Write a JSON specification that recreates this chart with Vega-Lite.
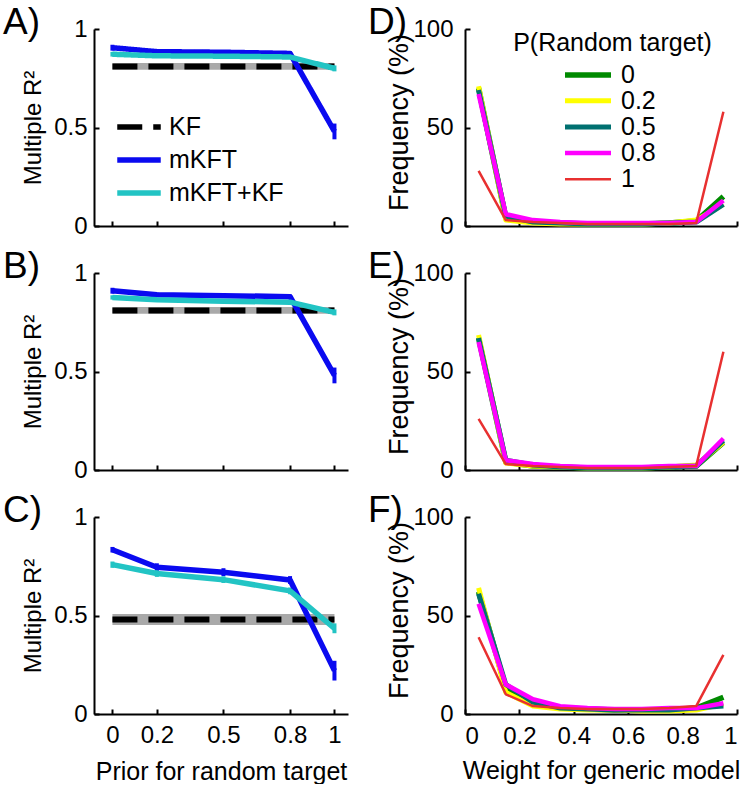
{
  "$schema": "https://vega.github.io/schema/vega-lite/v6.json",
  "padding": {"left": 3, "top": 4, "right": 2, "bottom": 0},
  "config": {
    "font": "Liberation Sans",
    "view": {"stroke": null},
    "axis": {"domainColor": "black", "domainWidth": 2, "tickColor": "black", "tickWidth": 2, "tickSize": -5, "labelFontSize": 24, "labelColor": "black", "titleFontSize": 25, "titleFontWeight": "normal", "titleColor": "black", "grid": false},
    "title": {"fontSize": 37, "fontWeight": "normal", "anchor": "start", "frame": "group", "color": "black"},
    "line": {"strokeJoin": "round"}
  },
  "datasets": {
    "R2": [
      {"panel": "A", "model": "KF", "x": 0, "y": 0.81, "lo": 0.793, "hi": 0.827},
      {"panel": "A", "model": "KF", "x": 1, "y": 0.81, "lo": 0.793, "hi": 0.827},
      {"panel": "A", "model": "mKFT", "x": 0, "y": 0.905, "lo": 0.89, "hi": 0.92},
      {"panel": "A", "model": "mKFT", "x": 0.2, "y": 0.885, "lo": 0.875, "hi": 0.895},
      {"panel": "A", "model": "mKFT", "x": 0.5, "y": 0.882, "lo": 0.872, "hi": 0.892},
      {"panel": "A", "model": "mKFT", "x": 0.8, "y": 0.876, "lo": 0.866, "hi": 0.886},
      {"panel": "A", "model": "mKFT", "x": 1, "y": 0.48, "lo": 0.44, "hi": 0.52},
      {"panel": "A", "model": "mKFT+KF", "x": 0, "y": 0.872, "lo": 0.86, "hi": 0.884},
      {"panel": "A", "model": "mKFT+KF", "x": 0.2, "y": 0.864, "lo": 0.855, "hi": 0.873},
      {"panel": "A", "model": "mKFT+KF", "x": 0.5, "y": 0.862, "lo": 0.853, "hi": 0.871},
      {"panel": "A", "model": "mKFT+KF", "x": 0.8, "y": 0.858, "lo": 0.849, "hi": 0.867},
      {"panel": "A", "model": "mKFT+KF", "x": 1, "y": 0.8, "lo": 0.785, "hi": 0.815},
      {"panel": "B", "model": "KF", "x": 0, "y": 0.81, "lo": 0.793, "hi": 0.827},
      {"panel": "B", "model": "KF", "x": 1, "y": 0.81, "lo": 0.793, "hi": 0.827},
      {"panel": "B", "model": "mKFT", "x": 0, "y": 0.91, "lo": 0.895, "hi": 0.925},
      {"panel": "B", "model": "mKFT", "x": 0.2, "y": 0.89, "lo": 0.88, "hi": 0.9},
      {"panel": "B", "model": "mKFT", "x": 0.5, "y": 0.885, "lo": 0.875, "hi": 0.895},
      {"panel": "B", "model": "mKFT", "x": 0.8, "y": 0.88, "lo": 0.87, "hi": 0.89},
      {"panel": "B", "model": "mKFT", "x": 1, "y": 0.48, "lo": 0.44, "hi": 0.52},
      {"panel": "B", "model": "mKFT+KF", "x": 0, "y": 0.876, "lo": 0.865, "hi": 0.887},
      {"panel": "B", "model": "mKFT+KF", "x": 0.2, "y": 0.864, "lo": 0.855, "hi": 0.873},
      {"panel": "B", "model": "mKFT+KF", "x": 0.5, "y": 0.857, "lo": 0.848, "hi": 0.866},
      {"panel": "B", "model": "mKFT+KF", "x": 0.8, "y": 0.852, "lo": 0.843, "hi": 0.861},
      {"panel": "B", "model": "mKFT+KF", "x": 1, "y": 0.8, "lo": 0.785, "hi": 0.815},
      {"panel": "C", "model": "KF", "x": 0, "y": 0.48, "lo": 0.452, "hi": 0.508},
      {"panel": "C", "model": "KF", "x": 1, "y": 0.48, "lo": 0.452, "hi": 0.508},
      {"panel": "C", "model": "mKFT", "x": 0, "y": 0.834, "lo": 0.82, "hi": 0.848},
      {"panel": "C", "model": "mKFT", "x": 0.2, "y": 0.745, "lo": 0.725, "hi": 0.765},
      {"panel": "C", "model": "mKFT", "x": 0.5, "y": 0.72, "lo": 0.7, "hi": 0.74},
      {"panel": "C", "model": "mKFT", "x": 0.8, "y": 0.68, "lo": 0.66, "hi": 0.7},
      {"panel": "C", "model": "mKFT", "x": 1, "y": 0.22, "lo": 0.17, "hi": 0.27},
      {"panel": "C", "model": "mKFT+KF", "x": 0, "y": 0.758, "lo": 0.742, "hi": 0.774},
      {"panel": "C", "model": "mKFT+KF", "x": 0.2, "y": 0.713, "lo": 0.696, "hi": 0.73},
      {"panel": "C", "model": "mKFT+KF", "x": 0.5, "y": 0.682, "lo": 0.665, "hi": 0.699},
      {"panel": "C", "model": "mKFT+KF", "x": 0.8, "y": 0.625, "lo": 0.608, "hi": 0.642},
      {"panel": "C", "model": "mKFT+KF", "x": 1, "y": 0.434, "lo": 0.41, "hi": 0.46}
    ],
    "freq": [
      {"panel": "D", "p": "0", "w": 0.05, "f": 70}, {"panel": "D", "p": "0", "w": 0.15, "f": 4}, {"panel": "D", "p": "0", "w": 0.25, "f": 2}, {"panel": "D", "p": "0", "w": 0.35, "f": 1.5}, {"panel": "D", "p": "0", "w": 0.45, "f": 1}, {"panel": "D", "p": "0", "w": 0.55, "f": 1}, {"panel": "D", "p": "0", "w": 0.65, "f": 1}, {"panel": "D", "p": "0", "w": 0.75, "f": 1.5}, {"panel": "D", "p": "0", "w": 0.85, "f": 2.5}, {"panel": "D", "p": "0", "w": 0.95, "f": 15},
      {"panel": "D", "p": "0.2", "w": 0.05, "f": 71}, {"panel": "D", "p": "0.2", "w": 0.15, "f": 3}, {"panel": "D", "p": "0.2", "w": 0.25, "f": 1.5}, {"panel": "D", "p": "0.2", "w": 0.35, "f": 1}, {"panel": "D", "p": "0.2", "w": 0.45, "f": 1}, {"panel": "D", "p": "0.2", "w": 0.55, "f": 1}, {"panel": "D", "p": "0.2", "w": 0.65, "f": 1}, {"panel": "D", "p": "0.2", "w": 0.75, "f": 1.5}, {"panel": "D", "p": "0.2", "w": 0.85, "f": 3}, {"panel": "D", "p": "0.2", "w": 0.95, "f": 11},
      {"panel": "D", "p": "0.5", "w": 0.05, "f": 69}, {"panel": "D", "p": "0.5", "w": 0.15, "f": 5}, {"panel": "D", "p": "0.5", "w": 0.25, "f": 2}, {"panel": "D", "p": "0.5", "w": 0.35, "f": 1.5}, {"panel": "D", "p": "0.5", "w": 0.45, "f": 1}, {"panel": "D", "p": "0.5", "w": 0.55, "f": 1}, {"panel": "D", "p": "0.5", "w": 0.65, "f": 1}, {"panel": "D", "p": "0.5", "w": 0.75, "f": 1.5}, {"panel": "D", "p": "0.5", "w": 0.85, "f": 2}, {"panel": "D", "p": "0.5", "w": 0.95, "f": 11},
      {"panel": "D", "p": "0.8", "w": 0.05, "f": 67}, {"panel": "D", "p": "0.8", "w": 0.15, "f": 6}, {"panel": "D", "p": "0.8", "w": 0.25, "f": 3}, {"panel": "D", "p": "0.8", "w": 0.35, "f": 2}, {"panel": "D", "p": "0.8", "w": 0.45, "f": 1.5}, {"panel": "D", "p": "0.8", "w": 0.55, "f": 1.5}, {"panel": "D", "p": "0.8", "w": 0.65, "f": 1.5}, {"panel": "D", "p": "0.8", "w": 0.75, "f": 1.5}, {"panel": "D", "p": "0.8", "w": 0.85, "f": 2}, {"panel": "D", "p": "0.8", "w": 0.95, "f": 13},
      {"panel": "D", "p": "1", "w": 0.05, "f": 28}, {"panel": "D", "p": "1", "w": 0.15, "f": 3}, {"panel": "D", "p": "1", "w": 0.25, "f": 2}, {"panel": "D", "p": "1", "w": 0.35, "f": 1.5}, {"panel": "D", "p": "1", "w": 0.45, "f": 1}, {"panel": "D", "p": "1", "w": 0.55, "f": 1}, {"panel": "D", "p": "1", "w": 0.65, "f": 1}, {"panel": "D", "p": "1", "w": 0.75, "f": 1}, {"panel": "D", "p": "1", "w": 0.85, "f": 1.5}, {"panel": "D", "p": "1", "w": 0.95, "f": 58},
      {"panel": "E", "p": "0", "w": 0.05, "f": 67}, {"panel": "E", "p": "0", "w": 0.15, "f": 4}, {"panel": "E", "p": "0", "w": 0.25, "f": 2}, {"panel": "E", "p": "0", "w": 0.35, "f": 1.5}, {"panel": "E", "p": "0", "w": 0.45, "f": 1}, {"panel": "E", "p": "0", "w": 0.55, "f": 1}, {"panel": "E", "p": "0", "w": 0.65, "f": 1}, {"panel": "E", "p": "0", "w": 0.75, "f": 1.5}, {"panel": "E", "p": "0", "w": 0.85, "f": 2}, {"panel": "E", "p": "0", "w": 0.95, "f": 14},
      {"panel": "E", "p": "0.2", "w": 0.05, "f": 68.5}, {"panel": "E", "p": "0.2", "w": 0.15, "f": 3.5}, {"panel": "E", "p": "0.2", "w": 0.25, "f": 2}, {"panel": "E", "p": "0.2", "w": 0.35, "f": 1.5}, {"panel": "E", "p": "0.2", "w": 0.45, "f": 1}, {"panel": "E", "p": "0.2", "w": 0.55, "f": 1}, {"panel": "E", "p": "0.2", "w": 0.65, "f": 1}, {"panel": "E", "p": "0.2", "w": 0.75, "f": 1.5}, {"panel": "E", "p": "0.2", "w": 0.85, "f": 2.5}, {"panel": "E", "p": "0.2", "w": 0.95, "f": 14},
      {"panel": "E", "p": "0.5", "w": 0.05, "f": 67}, {"panel": "E", "p": "0.5", "w": 0.15, "f": 5}, {"panel": "E", "p": "0.5", "w": 0.25, "f": 2.5}, {"panel": "E", "p": "0.5", "w": 0.35, "f": 1.5}, {"panel": "E", "p": "0.5", "w": 0.45, "f": 1}, {"panel": "E", "p": "0.5", "w": 0.55, "f": 1}, {"panel": "E", "p": "0.5", "w": 0.65, "f": 1}, {"panel": "E", "p": "0.5", "w": 0.75, "f": 1.5}, {"panel": "E", "p": "0.5", "w": 0.85, "f": 2}, {"panel": "E", "p": "0.5", "w": 0.95, "f": 15},
      {"panel": "E", "p": "0.8", "w": 0.05, "f": 65}, {"panel": "E", "p": "0.8", "w": 0.15, "f": 5}, {"panel": "E", "p": "0.8", "w": 0.25, "f": 3}, {"panel": "E", "p": "0.8", "w": 0.35, "f": 2}, {"panel": "E", "p": "0.8", "w": 0.45, "f": 1.5}, {"panel": "E", "p": "0.8", "w": 0.55, "f": 1.5}, {"panel": "E", "p": "0.8", "w": 0.65, "f": 1.5}, {"panel": "E", "p": "0.8", "w": 0.75, "f": 2}, {"panel": "E", "p": "0.8", "w": 0.85, "f": 2}, {"panel": "E", "p": "0.8", "w": 0.95, "f": 16},
      {"panel": "E", "p": "1", "w": 0.05, "f": 26}, {"panel": "E", "p": "1", "w": 0.15, "f": 3}, {"panel": "E", "p": "1", "w": 0.25, "f": 2}, {"panel": "E", "p": "1", "w": 0.35, "f": 1.5}, {"panel": "E", "p": "1", "w": 0.45, "f": 1}, {"panel": "E", "p": "1", "w": 0.55, "f": 1}, {"panel": "E", "p": "1", "w": 0.65, "f": 1}, {"panel": "E", "p": "1", "w": 0.75, "f": 1.5}, {"panel": "E", "p": "1", "w": 0.85, "f": 2}, {"panel": "E", "p": "1", "w": 0.95, "f": 60},
      {"panel": "F", "p": "0", "w": 0.05, "f": 62}, {"panel": "F", "p": "0", "w": 0.15, "f": 13}, {"panel": "F", "p": "0", "w": 0.25, "f": 5}, {"panel": "F", "p": "0", "w": 0.35, "f": 3}, {"panel": "F", "p": "0", "w": 0.45, "f": 2.5}, {"panel": "F", "p": "0", "w": 0.55, "f": 2}, {"panel": "F", "p": "0", "w": 0.65, "f": 2}, {"panel": "F", "p": "0", "w": 0.75, "f": 2}, {"panel": "F", "p": "0", "w": 0.85, "f": 3}, {"panel": "F", "p": "0", "w": 0.95, "f": 8.5},
      {"panel": "F", "p": "0.2", "w": 0.05, "f": 64}, {"panel": "F", "p": "0.2", "w": 0.15, "f": 11}, {"panel": "F", "p": "0.2", "w": 0.25, "f": 4}, {"panel": "F", "p": "0.2", "w": 0.35, "f": 2.5}, {"panel": "F", "p": "0.2", "w": 0.45, "f": 2}, {"panel": "F", "p": "0.2", "w": 0.55, "f": 2}, {"panel": "F", "p": "0.2", "w": 0.65, "f": 1.5}, {"panel": "F", "p": "0.2", "w": 0.75, "f": 1.5}, {"panel": "F", "p": "0.2", "w": 0.85, "f": 2}, {"panel": "F", "p": "0.2", "w": 0.95, "f": 5},
      {"panel": "F", "p": "0.5", "w": 0.05, "f": 61}, {"panel": "F", "p": "0.5", "w": 0.15, "f": 15}, {"panel": "F", "p": "0.5", "w": 0.25, "f": 6}, {"panel": "F", "p": "0.5", "w": 0.35, "f": 3}, {"panel": "F", "p": "0.5", "w": 0.45, "f": 2.5}, {"panel": "F", "p": "0.5", "w": 0.55, "f": 2}, {"panel": "F", "p": "0.5", "w": 0.65, "f": 2}, {"panel": "F", "p": "0.5", "w": 0.75, "f": 2}, {"panel": "F", "p": "0.5", "w": 0.85, "f": 3}, {"panel": "F", "p": "0.5", "w": 0.95, "f": 4},
      {"panel": "F", "p": "0.8", "w": 0.05, "f": 56}, {"panel": "F", "p": "0.8", "w": 0.15, "f": 15}, {"panel": "F", "p": "0.8", "w": 0.25, "f": 7.5}, {"panel": "F", "p": "0.8", "w": 0.35, "f": 4}, {"panel": "F", "p": "0.8", "w": 0.45, "f": 3}, {"panel": "F", "p": "0.8", "w": 0.55, "f": 2.5}, {"panel": "F", "p": "0.8", "w": 0.65, "f": 2.5}, {"panel": "F", "p": "0.8", "w": 0.75, "f": 3}, {"panel": "F", "p": "0.8", "w": 0.85, "f": 3}, {"panel": "F", "p": "0.8", "w": 0.95, "f": 5.5},
      {"panel": "F", "p": "1", "w": 0.05, "f": 39}, {"panel": "F", "p": "1", "w": 0.15, "f": 10}, {"panel": "F", "p": "1", "w": 0.25, "f": 4}, {"panel": "F", "p": "1", "w": 0.35, "f": 3}, {"panel": "F", "p": "1", "w": 0.45, "f": 2.5}, {"panel": "F", "p": "1", "w": 0.55, "f": 2.5}, {"panel": "F", "p": "1", "w": 0.65, "f": 2.5}, {"panel": "F", "p": "1", "w": 0.75, "f": 3}, {"panel": "F", "p": "1", "w": 0.85, "f": 4}, {"panel": "F", "p": "1", "w": 0.95, "f": 30}
    ]
  },
  "columns": 2,
  "spacing": {"row": 47, "column": 117},
  "bounds": "flush",
  "resolve": {"scale": {"color": "independent", "strokeDash": "independent", "strokeWidth": "independent"}, "legend": {"color": "independent", "strokeDash": "independent", "strokeWidth": "independent"}},
  "concat": [
    {
      "width": 254, "height": 197,
      "title": {"text": "A)", "dx": -91, "dy": 20, "offset": -34, "baseline": "alphabetic"},
      "data": {"name": "R2"},
      "transform": [{"filter": "datum.panel === 'A'"}],
      "encoding": {
        "x": {"field": "x", "type": "quantitative", "scale": {"domain": [-0.083, 1.061], "nice": false, "zero": false}, "axis": {"values": [0, 0.2, 0.5, 0.8, 1], "labels": false, "title": null}}
      },
      "layer": [
        {"transform": [{"filter": "datum.model === 'KF'"}], "mark": {"type": "area", "color": "#a9a9a9"},
         "encoding": {"y": {"field": "lo", "type": "quantitative", "title": "Multiple R²", "scale": {"domain": [0, 1], "nice": false}, "axis": {"values": [0, 0.5, 1], "format": "~g", "labelPadding": 12, "titlePadding": 8, "titleFontSize": 24}}, "y2": {"field": "hi"}}},
        {"transform": [{"filter": "datum.model === 'KF'"}], "mark": {"type": "line", "strokeWidth": 6, "strokeCap": "butt"},
         "encoding": {"y": {"field": "y", "type": "quantitative", "title": "Multiple R²"},
           "color": {"field": "model", "type": "nominal", "title": null, "scale": {"domain": ["KF", "mKFT", "mKFT+KF"], "range": ["#000000", "#0a0af0", "#22c4c4"]},
             "legend": {"title": null, "orient": "none", "legendX": 27, "legendY": 80, "padding": 0, "labelFontSize": 25, "labelColor": "black", "labelOffset": 12, "symbolType": "M-1.45,0H1.45", "symbolSize": 900, "symbolStrokeWidth": 5.5, "rowPadding": 2}},
           "strokeDash": {"field": "model", "type": "nominal", "title": null, "scale": {"domain": ["KF", "mKFT", "mKFT+KF"], "range": [[25, 11], [1, 0], [1, 0]]},
             "legend": {"title": null, "orient": "none", "legendX": 27, "legendY": 80, "padding": 0, "labelFontSize": 25, "labelColor": "black", "labelOffset": 12, "symbolType": "M-1.45,0H1.45", "symbolSize": 900, "symbolStrokeWidth": 5.5, "rowPadding": 2}}}},
        {"transform": [{"filter": "datum.model !== 'KF'"}], "mark": {"type": "rule", "strokeWidth": 4},
         "encoding": {"y": {"field": "lo", "type": "quantitative", "title": "Multiple R²"}, "y2": {"field": "hi"}, "color": {"field": "model", "type": "nominal", "title": null}}},
        {"transform": [{"filter": "datum.model !== 'KF'"}], "mark": {"type": "line", "strokeWidth": 5.5},
         "encoding": {"y": {"field": "y", "type": "quantitative", "title": "Multiple R²"}, "color": {"field": "model", "type": "nominal", "title": null}, "strokeDash": {"field": "model", "type": "nominal", "title": null}}}
      ]
    },
    {
      "width": 272, "height": 197,
      "title": {"text": "D)", "dx": -97, "dy": 20, "offset": -34, "baseline": "alphabetic"},
      "data": {"name": "freq"},
      "transform": [{"filter": "datum.panel === 'D'"}],
      "resolve": {"axis": {"x": "independent"}},
      "encoding": {
        "y": {"field": "f", "type": "quantitative", "scale": {"domain": [0, 100], "nice": false}, "axis": {"values": [0, 50, 100], "format": "d", "title": "Frequency (%)", "labelPadding": 17, "titlePadding": -1, "titleY": 93, "titleFontSize": 27}},
        "color": {"field": "p", "type": "nominal", "title": null, "scale": {"domain": ["0", "0.2", "0.5", "0.8", "1"], "range": ["#008a00", "#ffff00", "#007070", "#ff00ff", "#e83030"]},
          "legend": {"title": null, "orient": "none", "legendX": 110, "legendY": 33, "padding": 0, "labelFontSize": 25, "labelColor": "black", "labelOffset": 20, "symbolType": "M-2.3,0H2.3", "symbolSize": 400, "rowPadding": 0.2}},
        "strokeWidth": {"field": "p", "type": "nominal", "title": null, "scale": {"type": "ordinal", "domain": ["0", "0.2", "0.5", "0.8", "1"], "range": [5.5, 5, 5, 4.5, 2.5]},
          "legend": {"title": null, "orient": "none", "legendX": 110, "legendY": 33, "padding": 0, "labelFontSize": 25, "labelColor": "black", "labelOffset": 20, "symbolType": "M-2.3,0H2.3", "symbolSize": 400, "rowPadding": 0.2}}
      },
      "layer": [
        {"transform": [{"filter": "datum.p !== '1'"}], "mark": {"type": "line"},
         "encoding": {"x": {"field": "w", "type": "quantitative", "scale": {"domain": [0, 1], "nice": false}, "axis": {"values": [0, 0.2, 0.4, 0.6, 0.8, 1], "labels": false, "title": null}}}},
        {"transform": [{"filter": "datum.p === '1'"}], "mark": {"type": "line"},
         "encoding": {"x": {"field": "w", "type": "quantitative", "scale": {"domain": [0, 1], "nice": false}, "axis": {"orient": "top", "domain": false, "ticks": false, "labels": false, "title": "P(Random target)", "titleFontSize": 25, "titleX": 147, "titleY": 1, "titleAlign": "center", "titleBaseline": "top", "titleAngle": 0}}}}
      ]
    },
    {
      "width": 254, "height": 197,
      "title": {"text": "B)", "dx": -91, "dy": 20, "offset": -34, "baseline": "alphabetic"},
      "data": {"name": "R2"},
      "transform": [{"filter": "datum.panel === 'B'"}],
      "encoding": {
        "x": {"field": "x", "type": "quantitative", "scale": {"domain": [-0.083, 1.061], "nice": false, "zero": false}, "axis": {"values": [0, 0.2, 0.5, 0.8, 1], "labels": false, "title": null}}
      },
      "layer": [
        {"transform": [{"filter": "datum.model === 'KF'"}], "mark": {"type": "area", "color": "#a9a9a9"},
         "encoding": {"y": {"field": "lo", "type": "quantitative", "title": "Multiple R²", "scale": {"domain": [0, 1], "nice": false}, "axis": {"values": [0, 0.5, 1], "format": "~g", "labelPadding": 12, "titlePadding": 8, "titleFontSize": 24}}, "y2": {"field": "hi"}}},
        {"transform": [{"filter": "datum.model === 'KF'"}], "mark": {"type": "line", "strokeWidth": 6, "strokeCap": "butt", "strokeDash": [25, 11]},
         "encoding": {"y": {"field": "y", "type": "quantitative", "title": "Multiple R²"},
           "color": {"field": "model", "type": "nominal", "scale": {"domain": ["KF", "mKFT", "mKFT+KF"], "range": ["#000000", "#0a0af0", "#22c4c4"]}, "legend": null}}},
        {"transform": [{"filter": "datum.model !== 'KF'"}], "mark": {"type": "rule", "strokeWidth": 4},
         "encoding": {"y": {"field": "lo", "type": "quantitative", "title": "Multiple R²"}, "y2": {"field": "hi"}, "color": {"field": "model", "type": "nominal", "legend": null}}},
        {"transform": [{"filter": "datum.model !== 'KF'"}], "mark": {"type": "line", "strokeWidth": 5.5},
         "encoding": {"y": {"field": "y", "type": "quantitative", "title": "Multiple R²"}, "color": {"field": "model", "type": "nominal", "legend": null}}}
      ]
    },
    {
      "width": 272, "height": 197,
      "title": {"text": "E)", "dx": -97, "dy": 20, "offset": -34, "baseline": "alphabetic"},
      "data": {"name": "freq"},
      "transform": [{"filter": "datum.panel === 'E'"}],
      "encoding": {
        "x": {"field": "w", "type": "quantitative", "scale": {"domain": [0, 1], "nice": false}, "axis": {"values": [0, 0.2, 0.4, 0.6, 0.8, 1], "labels": false, "title": null}},
        "y": {"field": "f", "type": "quantitative", "scale": {"domain": [0, 100], "nice": false}, "axis": {"values": [0, 50, 100], "format": "d", "title": "Frequency (%)", "labelPadding": 17, "titlePadding": -1, "titleY": 93, "titleFontSize": 27}},
        "color": {"field": "p", "type": "nominal", "scale": {"domain": ["0", "0.2", "0.5", "0.8", "1"], "range": ["#008a00", "#ffff00", "#007070", "#ff00ff", "#e83030"]}, "legend": null},
        "strokeWidth": {"field": "p", "type": "nominal", "scale": {"type": "ordinal", "domain": ["0", "0.2", "0.5", "0.8", "1"], "range": [5.5, 5, 5, 4.5, 2.5]}, "legend": null}
      },
      "layer": [
        {"transform": [{"filter": "datum.p !== '1'"}], "mark": {"type": "line"}},
        {"transform": [{"filter": "datum.p === '1'"}], "mark": {"type": "line"}}
      ]
    },
    {
      "width": 254, "height": 197,
      "title": {"text": "C)", "dx": -91, "dy": 20, "offset": -34, "baseline": "alphabetic"},
      "data": {"name": "R2"},
      "transform": [{"filter": "datum.panel === 'C'"}],
      "encoding": {
        "x": {"field": "x", "type": "quantitative", "scale": {"domain": [-0.083, 1.061], "nice": false, "zero": false}, "axis": {"values": [0, 0.2, 0.5, 0.8, 1], "format": "~g", "title": "Prior for random target", "labelPadding": 14, "titlePadding": 12}}
      },
      "layer": [
        {"transform": [{"filter": "datum.model === 'KF'"}], "mark": {"type": "area", "color": "#a9a9a9"},
         "encoding": {"y": {"field": "lo", "type": "quantitative", "title": "Multiple R²", "scale": {"domain": [0, 1], "nice": false}, "axis": {"values": [0, 0.5, 1], "format": "~g", "labelPadding": 12, "titlePadding": 8, "titleFontSize": 24}}, "y2": {"field": "hi"}}},
        {"transform": [{"filter": "datum.model === 'KF'"}], "mark": {"type": "line", "strokeWidth": 6, "strokeCap": "butt", "strokeDash": [25, 11]},
         "encoding": {"y": {"field": "y", "type": "quantitative", "title": "Multiple R²"},
           "color": {"field": "model", "type": "nominal", "scale": {"domain": ["KF", "mKFT", "mKFT+KF"], "range": ["#000000", "#0a0af0", "#22c4c4"]}, "legend": null}}},
        {"transform": [{"filter": "datum.model !== 'KF'"}], "mark": {"type": "rule", "strokeWidth": 4},
         "encoding": {"y": {"field": "lo", "type": "quantitative", "title": "Multiple R²"}, "y2": {"field": "hi"}, "color": {"field": "model", "type": "nominal", "legend": null}}},
        {"transform": [{"filter": "datum.model !== 'KF'"}], "mark": {"type": "line", "strokeWidth": 5.5},
         "encoding": {"y": {"field": "y", "type": "quantitative", "title": "Multiple R²"}, "color": {"field": "model", "type": "nominal", "legend": null}}}
      ]
    },
    {
      "width": 272, "height": 197,
      "title": {"text": "F)", "dx": -97, "dy": 20, "offset": -34, "baseline": "alphabetic"},
      "data": {"name": "freq"},
      "transform": [{"filter": "datum.panel === 'F'"}],
      "encoding": {
        "x": {"field": "w", "type": "quantitative", "scale": {"domain": [0, 1], "nice": false}, "axis": {"values": [0, 0.2, 0.4, 0.6, 0.8, 1], "format": "~g", "title": "Weight for generic model", "labelPadding": 15, "titlePadding": 10}},
        "y": {"field": "f", "type": "quantitative", "scale": {"domain": [0, 100], "nice": false}, "axis": {"values": [0, 50, 100], "format": "d", "title": "Frequency (%)", "labelPadding": 17, "titlePadding": -1, "titleY": 93, "titleFontSize": 27}},
        "color": {"field": "p", "type": "nominal", "scale": {"domain": ["0", "0.2", "0.5", "0.8", "1"], "range": ["#008a00", "#ffff00", "#007070", "#ff00ff", "#e83030"]}, "legend": null},
        "strokeWidth": {"field": "p", "type": "nominal", "scale": {"type": "ordinal", "domain": ["0", "0.2", "0.5", "0.8", "1"], "range": [5.5, 5, 5, 4.5, 2.5]}, "legend": null}
      },
      "layer": [
        {"transform": [{"filter": "datum.p !== '1'"}], "mark": {"type": "line"}},
        {"transform": [{"filter": "datum.p === '1'"}], "mark": {"type": "line"}}
      ]
    }
  ]
}
